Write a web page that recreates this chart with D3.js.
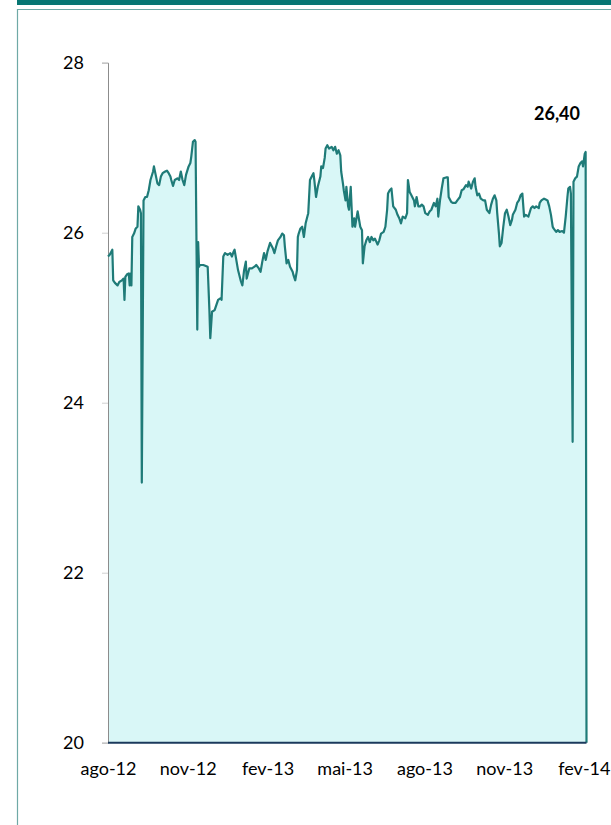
<!DOCTYPE html>
<html>
<head>
<meta charset="utf-8">
<script src="https://cdn.jsdelivr.net/npm/d3@7"></script>
<style>
  body { margin: 0; background: #fff; }
  svg { display: block; font-family: Lato, "Open Sans", sans-serif; }
</style>
</head>
<body>
<div id="vis"></div>
<script>
// price series (daily closes)
var dates = [
  "2012-08-01","2012-08-03","2012-08-06","2012-08-07","2012-08-09","2012-08-12","2012-08-14","2012-08-17","2012-08-19","2012-08-20",
  "2012-08-21","2012-08-23","2012-08-25","2012-08-26","2012-08-27","2012-08-28","2012-08-29","2012-08-31","2012-09-02","2012-09-04",
  "2012-09-05","2012-09-07","2012-09-08","2012-09-09","2012-09-11","2012-09-13","2012-09-15","2012-09-17","2012-09-19","2012-09-22",
  "2012-09-23","2012-09-25","2012-09-27","2012-09-29","2012-10-01","2012-10-03","2012-10-06","2012-10-08","2012-10-10","2012-10-12",
  "2012-10-13","2012-10-15","2012-10-17","2012-10-20","2012-10-22","2012-10-24","2012-10-26","2012-10-28","2012-10-30","2012-11-02",
  "2012-11-04","2012-11-05","2012-11-07","2012-11-09","2012-11-10","2012-11-12","2012-11-13","2012-11-14","2012-11-15","2012-11-19",
  "2012-11-24","2012-11-26","2012-11-27","2012-11-29","2012-12-02","2012-12-06","2012-12-09","2012-12-10","2012-12-12","2012-12-14",
  "2012-12-17","2012-12-20","2012-12-22","2012-12-24","2012-12-25","2012-12-27","2012-12-29","2013-01-01","2013-01-03","2013-01-05",
  "2013-01-07","2013-01-08","2013-01-11","2013-01-14","2013-01-17","2013-01-19","2013-01-22","2013-01-24","2013-01-26","2013-01-28",
  "2013-01-30","2013-02-01","2013-02-04","2013-02-07","2013-02-09","2013-02-11","2013-02-13","2013-02-16","2013-02-18","2013-02-20",
  "2013-02-21","2013-02-23","2013-02-25","2013-02-27","2013-03-02","2013-03-03","2013-03-05","2013-03-07","2013-03-08","2013-03-09",
  "2013-03-11","2013-03-13","2013-03-15","2013-03-17","2013-03-19","2013-03-20","2013-03-22","2013-03-24","2013-03-26","2013-03-27",
  "2013-03-29","2013-03-31","2013-04-03","2013-04-04","2013-04-06","2013-04-08","2013-04-09","2013-04-11","2013-04-13","2013-04-16",
  "2013-04-18","2013-04-20","2013-04-22","2013-04-24","2013-04-26","2013-04-27","2013-04-29","2013-04-30","2013-05-02","2013-05-03",
  "2013-05-05","2013-05-06","2013-05-08","2013-05-10","2013-05-12","2013-05-13","2013-05-16","2013-05-17","2013-05-19","2013-05-21",
  "2013-05-22","2013-05-24","2013-05-26","2013-05-28","2013-05-30","2013-06-01","2013-06-03","2013-06-05","2013-06-08","2013-06-10",
  "2013-06-12","2013-06-15","2013-06-17","2013-06-19","2013-06-20","2013-06-22","2013-06-24","2013-06-26","2013-06-29","2013-07-01",
  "2013-07-03","2013-07-05","2013-07-07","2013-07-10","2013-07-12","2013-07-13","2013-07-15","2013-07-17","2013-07-20","2013-07-21",
  "2013-07-23","2013-07-25","2013-07-27","2013-07-29","2013-07-31","2013-08-02","2013-08-05","2013-08-07","2013-08-09","2013-08-12",
  "2013-08-14","2013-08-16","2013-08-17","2013-08-19","2013-08-21","2013-08-23","2013-08-26","2013-08-28","2013-08-29","2013-09-01",
  "2013-09-03","2013-09-06","2013-09-08","2013-09-11","2013-09-13","2013-09-15","2013-09-18","2013-09-20","2013-09-21","2013-09-24",
  "2013-09-26","2013-09-28","2013-09-29","2013-10-01","2013-10-03","2013-10-05","2013-10-08","2013-10-10","2013-10-12","2013-10-15",
  "2013-10-17","2013-10-19","2013-10-21","2013-10-23","2013-10-24","2013-10-26","2013-10-27","2013-10-29","2013-10-31","2013-11-02",
  "2013-11-04","2013-11-06","2013-11-08","2013-11-10","2013-11-11","2013-11-14","2013-11-16","2013-11-18","2013-11-20","2013-11-22",
  "2013-11-24","2013-11-26","2013-11-29","2013-12-02","2013-12-04","2013-12-06","2013-12-08","2013-12-11","2013-12-12","2013-12-14",
  "2013-12-17","2013-12-19","2013-12-21","2013-12-23","2013-12-25","2013-12-27","2013-12-28","2013-12-31","2014-01-02","2014-01-04",
  "2014-01-07","2014-01-09","2014-01-11","2014-01-13","2014-01-14","2014-01-16","2014-01-17","2014-01-19","2014-01-20","2014-01-22",
  "2014-01-24","2014-01-26","2014-01-28","2014-01-30","2014-01-31","2014-02-02","2014-02-03","2014-02-04"
];
var values = [
  25.72,25.74,25.80,25.44,25.41,25.38,25.42,25.44,25.46,25.21,
  25.48,25.51,25.52,25.38,25.52,25.38,25.95,25.99,26.05,26.07,
  26.31,26.27,26.23,23.06,26.38,26.42,26.42,26.50,26.62,26.72,
  26.78,26.68,26.58,26.56,26.66,26.70,26.72,26.73,26.70,26.66,
  26.62,26.55,26.62,26.64,26.62,26.72,26.62,26.56,26.68,26.78,
  26.82,26.89,27.07,27.09,27.07,24.86,25.89,25.60,25.62,25.62,
  25.60,25.08,24.76,25.07,25.09,25.21,25.23,25.21,25.72,25.76,
  25.74,25.76,25.72,25.78,25.80,25.68,25.56,25.44,25.38,25.56,
  25.66,25.46,25.58,25.58,25.60,25.62,25.58,25.54,25.66,25.76,
  25.68,25.78,25.88,25.82,25.76,25.84,25.91,25.95,25.99,25.97,
  25.84,25.64,25.68,25.60,25.54,25.50,25.44,25.56,25.95,25.99,
  26.05,26.07,25.95,26.11,26.19,26.23,26.62,26.66,26.70,26.62,
  26.42,26.54,26.66,26.78,26.76,26.88,26.99,27.03,26.99,27.01,
  26.97,27.01,26.93,26.97,26.91,26.72,26.58,26.50,26.38,26.54,
  26.31,26.27,26.54,26.07,26.17,26.07,26.25,26.19,26.07,26.03,
  25.64,25.84,25.91,25.95,25.89,25.95,25.91,25.93,25.86,25.91,
  25.99,26.01,26.07,26.27,26.46,26.50,26.52,26.31,26.27,26.21,
  26.17,26.11,26.19,26.17,26.23,26.62,26.48,26.44,26.38,26.31,
  26.42,26.31,26.31,26.33,26.31,26.23,26.21,26.25,26.27,26.35,
  26.31,26.40,26.19,26.38,26.52,26.64,26.65,26.65,26.42,26.36,
  26.35,26.35,26.38,26.42,26.50,26.51,26.56,26.54,26.60,26.52,
  26.60,26.64,26.54,26.44,26.46,26.40,26.38,26.38,26.27,26.23,
  26.33,26.40,26.44,26.38,26.23,25.99,25.84,25.88,26.07,26.23,
  26.27,26.19,26.09,26.15,26.21,26.27,26.35,26.38,26.44,26.46,
  26.19,26.21,26.19,26.29,26.31,26.29,26.31,26.29,26.35,26.38,
  26.40,26.39,26.38,26.31,26.21,26.07,26.05,26.01,26.03,26.01,
  26.02,26.00,26.19,26.42,26.52,26.54,26.46,23.54,26.60,26.64,
  26.66,26.78,26.82,26.84,26.78,26.93,26.95,20.00
];

var yTicks = [20, 22, 24, 26, 28];
var xTickDates = ["2012-08-01","2012-11-01","2013-02-01","2013-05-01","2013-08-01","2013-11-01","2014-02-01"];
var xTickLabels = ["ago-12","nov-12","fev-13","mai-13","ago-13","nov-13","fev-14"];
var lastLabel = "26,40";

var W = 611, H = 825;
var parse = d3.timeParse("%Y-%m-%d");
var data = dates.map(function (d, i) { return { date: parse(d), value: values[i] }; });

var svg = d3.select("#vis").append("svg")
  .attr("width", W)
  .attr("height", H);

// header band and frame
svg.append("rect")
  .attr("x", 17).attr("y", 0)
  .attr("width", W - 17).attr("height", 5)
  .attr("fill", "#077673");
svg.append("path")
  .attr("d", "M17.5," + H + "V9.5H" + W)
  .attr("fill", "none")
  .attr("stroke", "#6fa9a6")
  .attr("stroke-width", 1.2);

var x = d3.scaleTime()
  .domain(d3.extent(data, function (d) { return d.date; }))
  .range([108, 586.5]);

var y = d3.scaleLinear()
  .domain([20, 28])
  .range([742.7, 62.7]);

// area fill
var area = d3.area()
  .x(function (d) { return x(d.date); })
  .y0(y(20))
  .y1(function (d) { return y(d.value); });

svg.append("path")
  .datum(data)
  .attr("d", area)
  .attr("fill", "#d9f7f7");

// y axis
var yAxis = svg.append("g")
  .attr("transform", "translate(108,0)")
  .call(d3.axisLeft(y).tickValues(yTicks).tickSize(6).tickPadding(18).tickFormat(d3.format("d")));
yAxis.select(".domain").attr("stroke", "#8c8c8c");
yAxis.selectAll(".tick line").attr("stroke", "#d0d0d0");
yAxis.selectAll("text")
  .attr("font-size", 18)
  .attr("font-family", "Lato, sans-serif")
  .attr("fill", "#000");

// series line
var line = d3.line()
  .x(function (d) { return x(d.date); })
  .y(function (d) { return y(d.value); });

svg.append("path")
  .datum(data)
  .attr("d", line)
  .attr("fill", "none")
  .attr("stroke", "#1f7b78")
  .attr("stroke-width", 2.2)
  .attr("stroke-linejoin", "round");

// x axis
var xAxis = svg.append("g")
  .attr("transform", "translate(0," + y(20) + ")")
  .call(d3.axisBottom(x)
    .tickValues(xTickDates.map(parse))
    .tickSize(0)
    .tickPadding(20)
    .tickFormat(function (d, i) { return xTickLabels[i]; }));
xAxis.select(".domain").remove();
xAxis.selectAll("text")
  .attr("font-size", 18)
  .attr("font-family", "Lato, sans-serif")
  .attr("fill", "#000");

svg.append("line")
  .attr("x1", 108).attr("x2", 586.5)
  .attr("y1", y(20)).attr("y2", y(20))
  .attr("stroke", "#1b3a5c")
  .attr("stroke-width", 2);

// last value label
svg.append("text")
  .attr("x", 580)
  .attr("y", 120)
  .attr("text-anchor", "end")
  .attr("font-size", 18)
  .attr("font-weight", "bold")
  .attr("fill", "#000")
  .text(lastLabel);
</script>
</body>
</html>
